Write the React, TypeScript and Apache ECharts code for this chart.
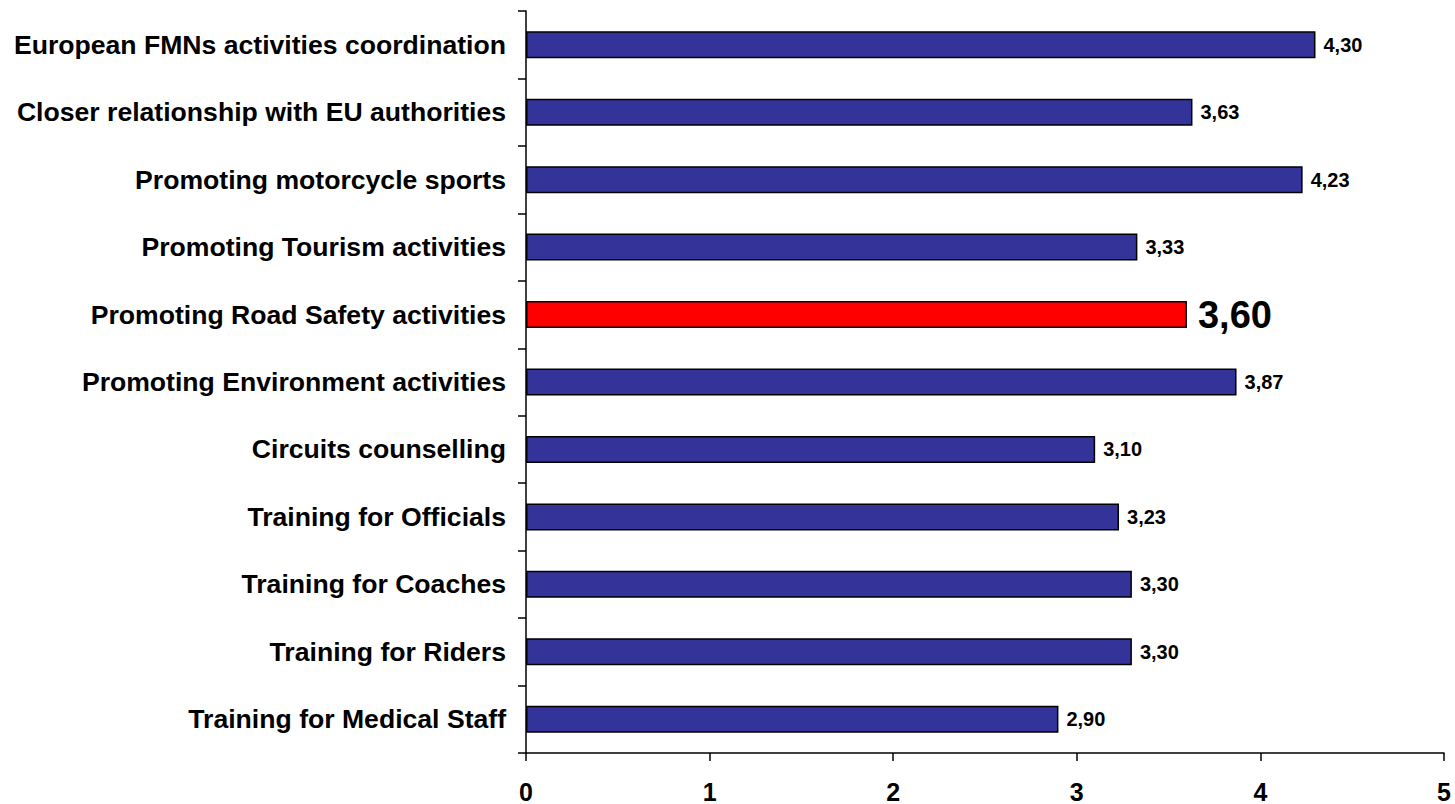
import React, { useEffect, useRef } from "react";
import * as echarts from "echarts";

const categories = [
  "European FMNs activities coordination",
  "Closer relationship with EU authorities",
  "Promoting motorcycle sports",
  "Promoting Tourism activities",
  "Promoting Road Safety activities",
  "Promoting Environment activities",
  "Circuits counselling",
  "Training for Officials",
  "Training for Coaches",
  "Training for Riders",
  "Training for Medical Staff",
];
const values = [4.3, 3.63, 4.23, 3.33, 3.6, 3.87, 3.1, 3.23, 3.3, 3.3, 2.9];
const highlightIndex = 4;
const xTicks = [0, 1, 2, 3, 4, 5];

export default function App() {
  const ref = useRef<HTMLDivElement>(null);
  useEffect(() => {
    if (!ref.current) return;
    const chart = echarts.init(ref.current, null, { renderer: "svg" });
    const font = "Liberation Sans, Arial, sans-serif";
    chart.setOption({
      animation: false,
      backgroundColor: "#ffffff",
      grid: { left: 526, right: 11, top: 11, bottom: 51, containLabel: false },
      xAxis: {
        type: "value",
        min: xTicks[0],
        max: xTicks[xTicks.length - 1],
        interval: 1,
        axisLine: { show: true, lineStyle: { color: "#000", width: 1.5 } },
        axisTick: { show: true, length: 8, lineStyle: { color: "#000", width: 1.5 } },
        splitLine: { show: false },
        axisLabel: {
          color: "#000",
          fontFamily: font,
          fontWeight: "bold",
          fontSize: 25,
          margin: 26,
        },
      },
      yAxis: {
        type: "category",
        data: categories,
        inverse: true,
        axisLine: { show: true, lineStyle: { color: "#000", width: 1.5 } },
        axisTick: { show: true, length: 8, lineStyle: { color: "#000", width: 1.5 } },
        axisLabel: {
          color: "#000",
          fontFamily: font,
          fontWeight: "bold",
          fontSize: 26.6,
          margin: 20,
        },
      },
      series: [
        {
          type: "bar",
          barWidth: "40%",
          data: values.map((v, i) => ({
            value: v,
            itemStyle: {
              color: i === highlightIndex ? "#ff0000" : "#333399",
              borderColor: "#000",
              borderWidth: 1.5,
            },
            label: {
              show: true,
              position: "right",
              distance: i === highlightIndex ? 11 : 8,
              color: "#000",
              fontFamily: font,
              fontWeight: "bold",
              fontSize: i === highlightIndex ? 38 : 20,
              formatter: (p: any) => p.value.toFixed(2).replace(".", ","),
            },
          })),
        },
      ],
    });
    return () => chart.dispose();
  }, []);
  return (
    <div
      ref={ref}
      style={{ position: "fixed", left: 0, top: 0, width: 1455, height: 804 }}
    />
  );
}
